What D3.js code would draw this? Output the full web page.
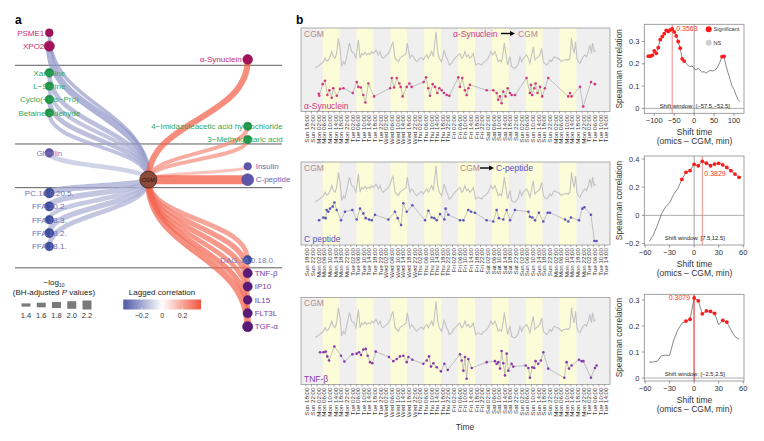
<!DOCTYPE html>
<html>
<head>
<meta charset="utf-8">
<script src="https://cdn.jsdelivr.net/npm/d3@7"></script>
<style>
  body { margin: 0; background: #fff; }
  svg text { font-family: "Liberation Sans", Arial, sans-serif; }
</style>
</head>
<body>
<svg id="fig" width="764" height="441"></svg>
<script>
// ---------- panel a data ----------
const nodeNames = ['PSME1', 'XPO2', 'Xanthine', 'L\u2212Serine', 'Cyclo(\u2212His\u2212Pro)', 'Betaine aldehyde',
    'Ghrelin', 'PC.16.0.20.5.', 'FFA.20.2.', 'FFA.18.3.', 'FFA.18.2.', 'FFA.18.1.',
    '\u03b1-Synuclein', '4\u2212Imidazoleacetic acid hydrochloride', '3\u2212Methylglutaric acid',
    'Insulin', 'C-peptide', 'DAG.16.0.18.0.', 'TNF-\u03b2', 'IP10', 'IL15', 'FLT3L', 'TGF-\u03b1'];
const nodeGroup = ['protein', 'protein', 'metabolite', 'metabolite', 'metabolite', 'metabolite',
    'hormone', 'lipid', 'lipid', 'lipid', 'lipid', 'lipid',
    'protein', 'metabolite', 'metabolite',
    'hormone', 'hormone', 'lipid', 'cytokine', 'cytokine', 'cytokine', 'cytokine', 'cytokine'];
const lagCorr = [-0.22, -0.24, -0.2, -0.18, -0.2, -0.19,
    -0.14, -0.2, -0.18, -0.17, -0.18, -0.18,
    0.3563, 0.26, 0.25,
    0.18, 0.3829, 0.28, 0.3079, 0.32, 0.32, 0.34, 0.34];
const negLogP = [1.45, 1.9, 1.6, 1.5, 1.6, 1.5,
    1.6, 1.8, 1.7, 1.6, 1.7, 1.6,
    1.8, 1.5, 1.5,
    1.4, 2.2, 1.6, 1.7, 1.7, 1.6, 1.7, 1.9];
const pLegendValues = [1.4, 1.6, 1.8, 2.0, 2.2];
const corrLegendTicks = [-0.2, 0, 0.2];

// ---------- panel b data ----------
const dayNames = ['Sun', 'Mon', 'Tue', 'Wed', 'Thu', 'Fri', 'Sat'];
const tickHours = [18, 22, 26, 30, 34, 38, 42, 46, 50, 54, 58, 62, 66, 70, 74, 78, 82, 86, 90, 94, 98,
    102, 106, 110, 114, 118, 122, 126, 130, 134, 138, 142, 146, 150, 154, 158, 162, 166, 170, 174,
    178, 182, 186, 190, 194, 198, 202, 206, 210, 214, 218, 222, 226, 230];
const dayBands = [[30, 42], [54, 66], [78, 90], [102, 114], [126, 138], [150, 162], [174, 186], [198, 210]];

// CGM glucose readings [hours since Sunday 00:00, mg/dL]
const cgmReadings = [[24.6,74],[26.2,78],[27.6,83],[29.3,89],[30.5,94],[31.7,106],[32.8,97],[34,100],[35.2,111],[36.4,128],
    [37.6,111],[38.7,106],[39.9,122],[41.1,172],[42.3,139],[43.5,78],[44.7,94],[45.8,86],[47,111],[48.9,156],
    [50.6,128],[52.2,122],[53.6,106],[55.3,167],[56.5,106],[57.7,122],[58.8,117],[60,126],[61.2,117],[62.4,122],
    [63.6,119],[64.8,128],[65.9,122],[67.8,133],[69.5,117],[70.7,128],[71.8,111],[73,106],[74.2,111],[75.4,117],
    [76.6,122],[77.8,133],[78.9,150],[79.9,159],[81.3,106],[82.5,100],[83.7,94],[84.8,106],[86,111],[87.9,117],
    [89.1,122],[90,156],[91,128],[91.9,106],[93.1,117],[94.3,111],[95.5,100],[96.7,94],[97.8,100],[99,106],
    [100.2,108],[101.4,100],[102.6,111],[103.8,117],[104.9,106],[106.1,117],[107.3,128],[108.5,111],[109.4,150],[110.4,194],
    [111.6,128],[112.7,106],[114.4,94],[116.1,133],[117.5,111],[118.7,100],[119.8,83],[121.5,89],[122.7,100],[123.9,106],
    [126.2,117],[127.3,122],[128.5,106],[129.7,111],[130.9,128],[132.1,111],[133.3,117],[134.4,106],[135.6,111],[136.8,122],
    [138.5,83],[140.3,89],[141.5,86],[142.7,83],[143.9,92],[145.1,94],[146.3,100],[147.4,106],[148.4,117],[149.3,128],
    [150.5,117],[152.2,128],[153.4,111],[154.5,94],[155.7,100],[156.9,94],[158.1,128],[158.8,156],[159.7,128],[161.2,83],
    [162.8,111],[164,78],[165.2,74],[166.4,72],[167.5,78],[168.7,86],[169.9,111],[171.1,94],[172.3,106],[173.4,111],
    [174.6,117],[175.8,106],[177,89],[178.2,117],[179.4,144],[180.5,100],[181.7,106],[182.9,111],[184.1,117],[185.3,139],
    [186.5,94],[187.6,89],[188.8,83],[190,89],[191.2,100],[192.4,94],[193.5,106],[194.7,111],[195.9,106],[197.1,106],
    [198.3,100],[199.5,94],[200.6,100],[201.8,100],[203,102],[204.2,100],[205.4,106],[206.5,172],[207.5,139],[208.4,122],
    [209.4,161],[210.3,106],[211.3,94],[212.5,89],[213.6,100],[214.8,111],[216,117],[217.2,111],[218.4,128],[219.5,150],
    [220.7,122],[221.4,156],[222.6,128],[223.6,133]];

// omics levels, z-scored [hours, z]
const alphaSynuclein = [[27.2,-0.1],[27.6,-0.4],[30,1.3],[31.6,1.8],[33.3,-0.3],[34.7,0.4],[36.4,-0.7],[37.5,0.7],[40,-0.4],[42.3,0.6],
    [44.7,0.7],[51.3,0],[54.1,1.6],[55.3,0.9],[57,0.8],[58.8,-0.3],[60.3,-1.4],[62.4,1.4],[66.4,-0.5],[77.8,0.7],
    [79,2.2],[80.6,0.8],[82.5,2.2],[84.4,1.4],[85.3,0.9],[86.7,-0.5],[89.6,0.9],[91.5,1.4],[93.1,0.9],[101.6,1.6],
    [103.3,2.3],[104.9,0.7],[106.1,-0.4],[108,1.3],[109.7,0.9],[111.3,0],[112.7,0.7],[114.4,0.4],[116,0],[118,-0.3],
    [119.8,-0.4],[126.2,2.3],[127.3,0.9],[129,2.2],[130.9,0.4],[132.1,-0.3],[133.3,0.7],[134.4,1.2],[146.3,0.4],[151,0.4],
    [153.4,0],[154.5,-1],[155.7,-0.5],[156.9,-1.5],[158.1,0.2],[159.7,-0.5],[161.2,0.7],[162.8,0],[164,-0.3],[166.4,-0.3],
    [174.6,2.2],[177,0],[177.7,1.2],[178.6,-0.3],[180.1,0.7],[181,1.4],[182.4,0],[184.1,0.9],[185.7,-0.5],[187.6,0.7],
    [190,2.2],[204.2,-0.5],[205.4,0],[206.5,-0.5],[212.5,0.9],[214.8,-2],[220.3,1.6],[223.1,1.3]];
const cPeptide = [[27.4,1.0],[30.5,1.4],[32.1,1.3],[32.8,2.5],[34,2.25],[35.2,2.7],[37.1,3.0],[38.3,3.6],[39.9,2.5],[43,1.0],
    [45.8,2.25],[51,2.5],[54.1,1.1],[56.5,2.7],[58.8,2.0],[60.5,1.3],[62.9,1.1],[64.8,1.0],[67.1,1.8],[76.6,1.1],
    [81.3,2.25],[83.2,1.3],[85.6,0.3],[87.2,3.5],[89.6,2.25],[93.6,3.2],[102.6,1.0],[105,2.4],[107.3,1.4],[109.2,1.3],
    [110.9,1.0],[113.2,1.9],[116.3,1.1],[117.2,2.7],[119.1,1.8],[127.4,1.0],[129.8,1.0],[133.3,2.5],[135.2,2.25],[138,2.1],
    [146.3,1.0],[151,0.8],[153.4,2.5],[155,1.3],[158.1,1.1],[160.5,2.5],[162.9,1.0],[166.4,2.5],[175.9,2.25],[177,1.5],
    [178.7,1.4],[180.6,1.0],[183.4,2.1],[186.5,0.8],[189.6,2.1],[191.2,2.1],[201.9,1.1],[204.2,0.8],[206.1,1.4],[211.8,1.0],
    [214.2,2.7],[215.6,2.9],[220.3,1.8],[222.7,-2.06],[224.3,-2.06]];
const tnfBeta = [[28.1,1.5],[30.5,1.5],[32.1,1.6],[33.3,0.9],[34.5,0.3],[38.3,2.35],[43,1.0],[45.4,0.15],[51,1.2],[54.1,1.3],
    [55.8,1.5],[57.2,1.1],[58.8,1.9],[60.5,2.0],[61.9,1.0],[63.6,0.05],[65.2,-0.1],[67.6,1.6],[77,0.8],[80.1,0.2],
    [82.5,0.5],[84.8,0.9],[87.2,1.0],[89.6,0.05],[90.8,0.8],[93.6,0.4],[101.4,-0.2],[103.8,0.3],[105.4,0.9],[106.8,-0.6],
    [108.5,-0.1],[110.9,-0.7],[113.9,-1.3],[116.3,-0.2],[118.7,-1.1],[127.4,1.2],[128.6,0.3],[129.8,-1.2],[130.9,0.8],[132.1,-2.4],
    [133.3,0.5],[135.7,-0.8],[146.3,0.05],[152.2,0.2],[153.4,-0.2],[154.6,0.05],[155.8,-0.9],[156.9,1.7],[158.1,-0.1],[159.3,-1.9],
    [160.5,1.3],[161.7,-1.2],[164,-0.2],[165.2,-0.6],[174,-0.45],[175.9,-0.8],[177,-2.25],[178.7,-0.7],[180.1,-0.8],[181,0.2],
    [182.9,-0.2],[184.8,0.3],[186.5,1.5],[190,-0.9],[201.4,-2.25],[203,0.05],[204.7,-0.9],[206.6,-0.45],[211.8,0.4],[213.7,0.2],
    [214.9,0.2],[220.3,-2.25],[223.1,-0.8],[224.3,-0.45]];

// lagged Spearman correlation curves
const shiftAlpha = [-115,-110,-105,-100,-95,-90,-85,-80,-75,-70,-65,-60,-55,-50,-45,-40,-35,-30,-25,-20,-15,-10,-5,0,
    5,10,15,20,25,30,35,40,45,50,55,60,65,70,75,80,85,90,95,100,105,110,115];
const corrAlpha = [0.234,0.234,0.238,0.258,0.247,0.272,0.308,0.322,0.335,0.35,0.345,0.352,0.3563,0.343,0.325,0.30,0.27,0.222,0.212,0.20,0.192,0.188,0.19,0.178,
    0.172,0.18,0.17,0.162,0.165,0.158,0.165,0.17,0.168,0.17,0.175,0.19,0.21,0.232,0.233,0.19,0.16,0.13,0.10,0.085,0.06,0.04,0.03];
const sigAlpha = [1,1,1,1,1,1,1,1,1,1,1,1,1,1,1,1,1,1,1,0,0,0,0,0,0,0,0,0,0,0,0,0,0,0,0,0,0,1,1,0,0,0,0,0,0,0,0];
const shiftShort = [-55,-50,-45,-40,-35,-30,-25,-20,-15,-10,-5,0,5,10,15,20,25,30,35,40,45,50,55];
const corrCpep = [-0.185,-0.14,-0.07,0.01,0.06,0.09,0.15,0.19,0.255,0.305,0.318,0.362,0.352,0.3829,0.37,0.352,0.364,0.369,0.358,0.34,0.317,0.293,0.27];
const sigCpep = [0,0,0,0,0,0,0,0,1,1,1,1,1,1,1,1,1,1,1,1,1,1,1];
const corrTnf = [0.0615,0.0615,0.065,0.086,0.088,0.087,0.146,0.185,0.21,0.219,0.226,0.3079,0.297,0.247,0.258,0.256,0.249,0.205,0.222,0.215,0.185,0.159,0.149];
const sigTnf = [0,0,0,0,0,0,0,0,0,1,1,1,1,1,1,1,1,0,1,1,0,0,0];

// ---------- styles ----------
const groupFill = { protein: '#a3125a', metabolite: '#1f9448', hormone: '#5e56aa', lipid: '#3f4f9e', cytokine: '#5a1a78' };
const groupText = { protein: '#c22c72', metabolite: '#35a85a', hormone: '#6c64b6', lipid: '#6a72bc', cytokine: '#7b3a9c' };
const labelPlace = {
    'PSME1': ['end', -5], 'XPO2': ['end', -5], '\u03b1-Synuclein': ['end', -6],
    '4\u2212Imidazoleacetic acid hydrochloride': ['end', 35], '3\u2212Methylglutaric acid': ['end', 35],
    'Insulin': ['start', 8], 'C-peptide': ['start', 8], 'TNF-\u03b2': ['start', 7], 'IP10': ['start', 7],
    'IL15': ['start', 7], 'FLT3L': ['start', 7], 'TGF-\u03b1': ['start', 7]
};
const nodeRow = [0, 1, 3, 4, 5, 6, 9, 12, 13, 14, 15, 16, 2, 7, 8, 10, 11, 17, 18, 19, 20, 21, 22];

const svg = d3.select('#fig');
svg.append('rect').attr('width', 764).attr('height', 441).attr('fill', '#fff');

// ================= panel a =================
function drawNetwork() {
    const g = svg.append('g');
    const rowY = d3.scaleLinear().domain([0, 22]).range([32.7, 326.6]);
    const colX = { left: 49.3, center: 148.3, right: 247.7 };
    const corrColor = d3.scaleLinear().domain([-0.38, 0, 0.38]).range(['#4e59a6', '#ffffff', '#f2553e']);
    const edgeWidth = d3.scaleLinear().domain([1.4, 2.2]).range([3.2, 9]);
    const nodeR = d3.scaleLinear().domain([1.4, 2.2]).range([3.8, 6]);

    g.append('text').attr('x', 15).attr('y', 24).text('a')
        .attr('font-size', 12).attr('font-weight', 'bold').attr('fill', '#000');

    [2.44, 8.33, 11.6, 17.6].forEach(function (r) {
        g.append('line').attr('x1', 15).attr('x2', 282).attr('y1', rowY(r)).attr('y2', rowY(r))
            .attr('stroke', '#333').attr('stroke-width', 0.8);
    });

    const nodes = nodeNames.map(function (name, i) {
        return {
            name: name, group: nodeGroup[i], corr: lagCorr[i], p: negLogP[i],
            x: i < 12 ? colX.left : colX.right, y: rowY(nodeRow[i])
        };
    });
    const center = [colX.center, rowY(11)];
    const link = d3.linkVertical().x(function (d) { return d[0]; }).y(function (d) { return d[1]; });

    g.append('g').selectAll('path')
        .data(nodes)
        .enter()
        .append('path')
        .attr('d', function (d) { return link({ source: center, target: [d.x, d.y] }); })
        .attr('fill', 'none')
        .attr('stroke', function (d) { return corrColor(d.corr); })
        .attr('stroke-opacity', 0.72)
        .attr('stroke-width', function (d) { return edgeWidth(d.p); });

    g.append('g').selectAll('circle')
        .data(nodes)
        .enter()
        .append('circle')
        .attr('cx', function (d) { return d.x; })
        .attr('cy', function (d) { return d.y; })
        .attr('r', function (d) { return nodeR(d.p); })
        .attr('fill', function (d) { return groupFill[d.group]; })
        .attr('stroke', function (d) { return d3.color(groupFill[d.group]).darker(0.6); })
        .attr('stroke-width', 0.5);

    g.append('circle').attr('cx', center[0]).attr('cy', center[1]).attr('r', 8.5)
        .attr('fill', '#8a4a3c').attr('stroke', '#3b1a12').attr('stroke-width', 0.8);
    g.append('text').attr('x', center[0]).attr('y', center[1] + 2).attr('text-anchor', 'middle')
        .attr('font-size', 5.5).attr('fill', '#2a0c04').text('CGM');

    g.append('g').selectAll('text')
        .data(nodes)
        .enter()
        .append('text')
        .attr('x', function (d) { return d.x + (labelPlace[d.name] ? labelPlace[d.name][1] : 0); })
        .attr('y', function (d) { return d.y + 2.8; })
        .attr('text-anchor', function (d) { return labelPlace[d.name] ? labelPlace[d.name][0] : 'middle'; })
        .attr('font-size', 8)
        .attr('fill', function (d) { return d.name === 'Ghrelin' || d.name.indexOf('DAG') === 0 ? '#7e78bc' : groupText[d.group]; })
        .text(function (d) { return d.name; });

    // size legend
    const t1 = g.append('text').attr('x', 54).attr('y', 285).attr('text-anchor', 'middle')
        .attr('font-size', 8).attr('fill', '#222');
    t1.append('tspan').text('\u2212log');
    t1.append('tspan').text('10').attr('font-size', 5).attr('dy', 2);
    const t2 = g.append('text').attr('x', 54).attr('y', 295).attr('text-anchor', 'middle')
        .attr('font-size', 8).attr('fill', '#222');
    t2.append('tspan').text('(BH-adjusted ');
    t2.append('tspan').text('P').attr('font-style', 'italic');
    t2.append('tspan').text(' values)');
    const legX = d3.scalePoint().domain(pLegendValues).range([26, 87]);
    g.append('g').selectAll('rect')
        .data(pLegendValues)
        .enter()
        .append('rect')
        .attr('x', function (d) { return legX(d) - 4.5; })
        .attr('y', function (d) { return 305 - edgeWidth(d) / 2; })
        .attr('width', 9)
        .attr('height', function (d) { return edgeWidth(d); })
        .attr('fill', '#7a7a7a');
    g.append('g').selectAll('text')
        .data(pLegendValues)
        .enter()
        .append('text')
        .attr('x', function (d) { return legX(d); })
        .attr('y', 318)
        .attr('text-anchor', 'middle')
        .attr('font-size', 7.5)
        .attr('fill', '#333')
        .text(function (d) { return d.toFixed(1); });

    // colour legend
    const barX = d3.scaleLinear().domain([-0.38, 0.38]).range([123.3, 201]);
    const grad = svg.append('defs').append('linearGradient').attr('id', 'corrGrad');
    d3.range(0, 1.0001, 0.1).forEach(function (t) {
        grad.append('stop').attr('offset', t).attr('stop-color', corrColor(-0.38 + t * 0.76));
    });
    g.append('text').attr('x', 162).attr('y', 295).attr('text-anchor', 'middle')
        .attr('font-size', 8).attr('fill', '#222').text('Lagged correlation');
    g.append('rect').attr('x', barX(-0.38)).attr('y', 299.5).attr('width', barX(0.38) - barX(-0.38))
        .attr('height', 10).attr('fill', 'url(#corrGrad)');
    g.append('g').selectAll('line')
        .data(corrLegendTicks)
        .enter()
        .append('line')
        .attr('x1', function (d) { return barX(d); })
        .attr('x2', function (d) { return barX(d); })
        .attr('y1', 307.5).attr('y2', 309.5)
        .attr('stroke', '#fff').attr('stroke-width', 0.6);
    g.append('g').selectAll('text')
        .data(corrLegendTicks)
        .enter()
        .append('text')
        .attr('x', function (d) { return barX(d); })
        .attr('y', 318)
        .attr('text-anchor', 'middle')
        .attr('font-size', 7)
        .attr('fill', '#333')
        .text(function (d) { return d === 0 ? '0' : (d < 0 ? '\u2212' : '') + Math.abs(d).toFixed(1); });
}

// ================= panel b time series =================
const tsPanels = [
    { top: 28, bottom: 111.5, omics: alphaSynuclein, color: '#d33680', name: '\u03b1-Synuclein', title: 'toCGM' },
    { top: 162, bottom: 245, omics: cPeptide, color: '#5a52c0', name: 'C peptide', title: 'fromCGM' },
    { top: 297.5, bottom: 384.5, omics: tnfBeta, color: '#8a38b0', name: 'TNF-\u03b2', title: null }
];
const timeX = d3.scaleLinear().domain([14.6, 233.8]).range([301, 610]);

function drawArrow(g, x1, x2, y) {
    g.append('line').attr('x1', x1).attr('x2', x2 - 4).attr('y1', y).attr('y2', y)
        .attr('stroke', '#000').attr('stroke-width', 1.4);
    g.append('path').attr('d', 'M' + (x2 - 5) + ',' + (y - 2.6) + ' L' + x2 + ',' + y + ' L' + (x2 - 5) + ',' + (y + 2.6) + ' Z')
        .attr('fill', '#000');
}

function drawTimeSeries(p) {
    const g = svg.append('g');
    const cgmY = d3.scaleLinear().domain([50, 200]).range([p.top + 47, p.top + 2]);
    const omY = d3.scaleLinear().domain([-2.5, 2.5]).range([p.top + 82, p.top + 48]);
    const x0 = timeX.range()[0], x1 = timeX.range()[1];

    g.append('rect').attr('x', x0).attr('y', p.top).attr('width', x1 - x0).attr('height', p.bottom - p.top)
        .attr('fill', '#efefef');
    g.append('g').selectAll('rect')
        .data(dayBands)
        .enter()
        .append('rect')
        .attr('x', function (d) { return timeX(d[0]); })
        .attr('width', function (d) { return timeX(d[1]) - timeX(d[0]); })
        .attr('y', p.top)
        .attr('height', p.bottom - p.top)
        .attr('fill', '#fcfcd9');

    const line = d3.line().x(function (d) { return timeX(d[0]); });
    g.append('path').datum(cgmReadings)
        .attr('d', line.y(function (d) { return cgmY(d[1]); }))
        .attr('fill', 'none').attr('stroke', '#c3c3c3').attr('stroke-width', 1.1);
    g.append('path').datum(p.omics)
        .attr('d', line.y(function (d) { return omY(d[1]); }))
        .attr('fill', 'none').attr('stroke', '#ababab').attr('stroke-width', 0.7);
    g.append('g').selectAll('circle')
        .data(p.omics)
        .enter()
        .append('circle')
        .attr('cx', function (d) { return timeX(d[0]); })
        .attr('cy', function (d) { return omY(d[1]); })
        .attr('r', 1.3)
        .attr('fill', p.color);

    g.append('rect').attr('x', x0).attr('y', p.top).attr('width', x1 - x0).attr('height', p.bottom - p.top)
        .attr('fill', 'none').attr('stroke', '#9a9a9a').attr('stroke-width', 0.8);

    g.append('text').attr('x', x0 + 3).attr('y', p.top + 8.5).attr('font-size', 8.5)
        .attr('fill', '#b58a8a').text('CGM');
    g.append('text').attr('x', x0 + 3).attr('y', p.bottom - 3).attr('font-size', 8.5)
        .attr('fill', p.color).text(p.name);

    if (p.title === 'toCGM') {
        g.append('text').attr('x', 453).attr('y', p.top + 8.5).attr('font-size', 8.5).attr('fill', '#d33680').text('\u03b1-Synuclein');
        drawArrow(g, 501, 515, p.top + 5.5);
        g.append('text').attr('x', 518).attr('y', p.top + 8.5).attr('font-size', 8.5).attr('fill', '#b58a8a').text('CGM');
    } else if (p.title === 'fromCGM') {
        g.append('text').attr('x', 460).attr('y', p.top + 9).attr('font-size', 8.5).attr('fill', '#b58a8a').text('CGM');
        drawArrow(g, 480, 494, p.top + 6);
        g.append('text').attr('x', 496).attr('y', p.top + 9).attr('font-size', 8.5).attr('fill', '#5a52c0').text('C-peptide');
    }

    // time ticks
    g.append('g').selectAll('line')
        .data(tickHours)
        .enter()
        .append('line')
        .attr('x1', function (d) { return timeX(d); })
        .attr('x2', function (d) { return timeX(d); })
        .attr('y1', p.bottom).attr('y2', p.bottom + 2)
        .attr('stroke', '#555').attr('stroke-width', 0.5);
    g.append('g').selectAll('text')
        .data(tickHours)
        .enter()
        .append('text')
        .attr('transform', function (d) { return 'translate(' + (timeX(d) + 1.5) + ',' + (p.bottom + 3) + ') rotate(-90)'; })
        .attr('text-anchor', 'end')
        .attr('dy', '0.35em')
        .attr('font-size', 6.2)
        .attr('fill', '#333')
        .text(function (d) {
            const hh = d % 24;
            return dayNames[Math.floor(d / 24) % 7] + ' ' + (hh < 10 ? '0' : '') + hh + ':00';
        });
}

// ================= panel b lag plots =================
const lagPanels = [
    { top: 24.3, bottom: 113.3, xDomain: [-125, 125], yDomain: [-0.022, 0.377], xTicks: [-100, -50, 0, 50, 100],
      yTicks: [0, 0.1, 0.2, 0.3], shift: shiftAlpha, corr: corrAlpha, sig: sigAlpha, best: -55, bestText: '0.3563',
      window: 'Shift window: (\u221257.5,\u221252.5]', legend: true },
    { top: 156, bottom: 245, xDomain: [-61, 61], yDomain: [-0.21, 0.421], xTicks: [-60, -30, 0, 30, 60],
      yTicks: [-0.2, 0, 0.2, 0.4], shift: shiftShort, corr: corrCpep, sig: sigCpep, best: 10, bestText: '0.3829',
      window: 'Shift window: [7.5,12.5]', legend: false },
    { top: 294.3, bottom: 381, xDomain: [-61, 61], yDomain: [-0.0115, 0.322], xTicks: [-60, -30, 0, 30, 60],
      yTicks: [0, 0.1, 0.2, 0.3], shift: shiftShort, corr: corrTnf, sig: sigTnf, best: 0, bestText: '0.3079',
      window: 'Shift window: [\u22122.5,2.5]', legend: false }
];

function fmtTick(v) {
    if (v === 0) return '0';
    return (v < 0 ? '\u2212' : '') + Math.abs(v).toString();
}

function drawLagPlot(p, i) {
    const g = svg.append('g');
    const x = d3.scaleLinear().domain(p.xDomain).range([644.3, 744]);
    const y = d3.scaleLinear().domain(p.yDomain).range([p.bottom, p.top]);
    const pts = p.shift.map(function (s, k) { return { s: s, c: p.corr[k], sig: p.sig[k] === 1 }; });

    g.append('rect').attr('x', 644.3).attr('y', p.top).attr('width', 744 - 644.3).attr('height', p.bottom - p.top)
        .attr('fill', '#fff');
    g.append('line').attr('x1', 644.3).attr('x2', 744).attr('y1', y(0)).attr('y2', y(0))
        .attr('stroke', '#9a9a9a').attr('stroke-width', 0.8);
    g.append('line').attr('x1', x(0)).attr('x2', x(0)).attr('y1', p.top).attr('y2', p.bottom)
        .attr('stroke', '#8a8a8a').attr('stroke-width', 0.8);
    g.append('line').attr('x1', x(p.best)).attr('x2', x(p.best)).attr('y1', p.top).attr('y2', p.bottom)
        .attr('stroke', '#f07070').attr('stroke-width', p.best === 0 ? 1.8 : 1).attr('stroke-opacity', 0.8);

    g.append('path').datum(pts)
        .attr('d', d3.line().x(function (d) { return x(d.s); }).y(function (d) { return y(d.c); }))
        .attr('fill', 'none').attr('stroke', '#555').attr('stroke-width', 0.7);
    g.append('g').selectAll('circle')
        .data(pts.filter(function (d) { return d.sig; }))
        .enter()
        .append('circle')
        .attr('cx', function (d) { return x(d.s); })
        .attr('cy', function (d) { return y(d.c); })
        .attr('r', 1.9)
        .attr('fill', '#ff1a1a');

    g.append('rect').attr('x', 644.3).attr('y', p.top).attr('width', 744 - 644.3).attr('height', p.bottom - p.top)
        .attr('fill', 'none').attr('stroke', '#8a8a8a').attr('stroke-width', 0.8);

    // best value label
    const bestY = y(d3.max(p.corr));
    if (i === 0) {
        g.append('text').attr('x', x(p.best) + 4).attr('y', bestY + 2.5).attr('font-size', 7).attr('fill', '#ff3030').text(p.bestText);
    } else if (i === 1) {
        g.append('text').attr('x', x(p.best) + 2).attr('y', bestY + 15).attr('font-size', 7).attr('fill', '#ff3030').text(p.bestText);
    } else {
        g.append('text').attr('x', x(p.best) - 4).attr('y', bestY + 2.5).attr('text-anchor', 'end')
            .attr('font-size', 7).attr('fill', '#ff3030').text(p.bestText);
    }
    g.append('text').attr('x', 694.8).attr('y', p.bottom - 5.5).attr('text-anchor', 'middle')
        .attr('font-size', 5.8).attr('fill', '#222').text(p.window);

    // axes
    g.append('g').selectAll('line')
        .data(p.xTicks)
        .enter()
        .append('line')
        .attr('x1', function (d) { return x(d); }).attr('x2', function (d) { return x(d); })
        .attr('y1', p.bottom).attr('y2', p.bottom + 2.5)
        .attr('stroke', '#555').attr('stroke-width', 0.6);
    g.append('g').selectAll('text')
        .data(p.xTicks)
        .enter()
        .append('text')
        .attr('x', function (d) { return x(d); }).attr('y', p.bottom + 10)
        .attr('text-anchor', 'middle').attr('font-size', 7.5).attr('fill', '#333')
        .text(fmtTick);
    g.append('g').selectAll('line')
        .data(p.yTicks)
        .enter()
        .append('line')
        .attr('x1', 641.8).attr('x2', 644.3)
        .attr('y1', function (d) { return y(d); }).attr('y2', function (d) { return y(d); })
        .attr('stroke', '#555').attr('stroke-width', 0.6);
    g.append('g').selectAll('text')
        .data(p.yTicks)
        .enter()
        .append('text')
        .attr('x', 639.5).attr('y', function (d) { return y(d) + 2.6; })
        .attr('text-anchor', 'end').attr('font-size', 7.5).attr('fill', '#333')
        .text(fmtTick);

    g.append('text').attr('transform', 'translate(622,' + ((p.top + p.bottom) / 2) + ') rotate(-90)')
        .attr('text-anchor', 'middle').attr('font-size', 8.3).attr('fill', '#333').text('Spearman correlation');
    g.append('text').attr('x', 694.5).attr('y', p.bottom + 21.5).attr('text-anchor', 'middle')
        .attr('font-size', 8.5).attr('fill', '#333').text('Shift time');
    g.append('text').attr('x', 694.5).attr('y', p.bottom + 31).attr('text-anchor', 'middle')
        .attr('font-size', 8.5).attr('fill', '#333').text('(omics \u2013 CGM, min)');

    if (p.legend) {
        g.append('circle').attr('cx', 708.7).attr('cy', 29.3).attr('r', 3).attr('fill', '#ff1a1a');
        g.append('text').attr('x', 713.5).attr('y', 31.4).attr('font-size', 5.6).attr('fill', '#333').text('Significant');
        g.append('circle').attr('cx', 708.7).attr('cy', 42.7).attr('r', 3).attr('fill', '#cfcfcf');
        g.append('text').attr('x', 713.5).attr('y', 44.8).attr('font-size', 5.6).attr('fill', '#333').text('NS');
    }
}

drawNetwork();
svg.append('text').attr('x', 296).attr('y', 24).text('b')
    .attr('font-size', 12).attr('font-weight', 'bold').attr('fill', '#000');
tsPanels.forEach(drawTimeSeries);
lagPanels.forEach(drawLagPlot);
svg.append('text').attr('x', 465).attr('y', 430).attr('text-anchor', 'middle')
    .attr('font-size', 8.5).attr('fill', '#333').text('Time');
</script>
</body>
</html>
